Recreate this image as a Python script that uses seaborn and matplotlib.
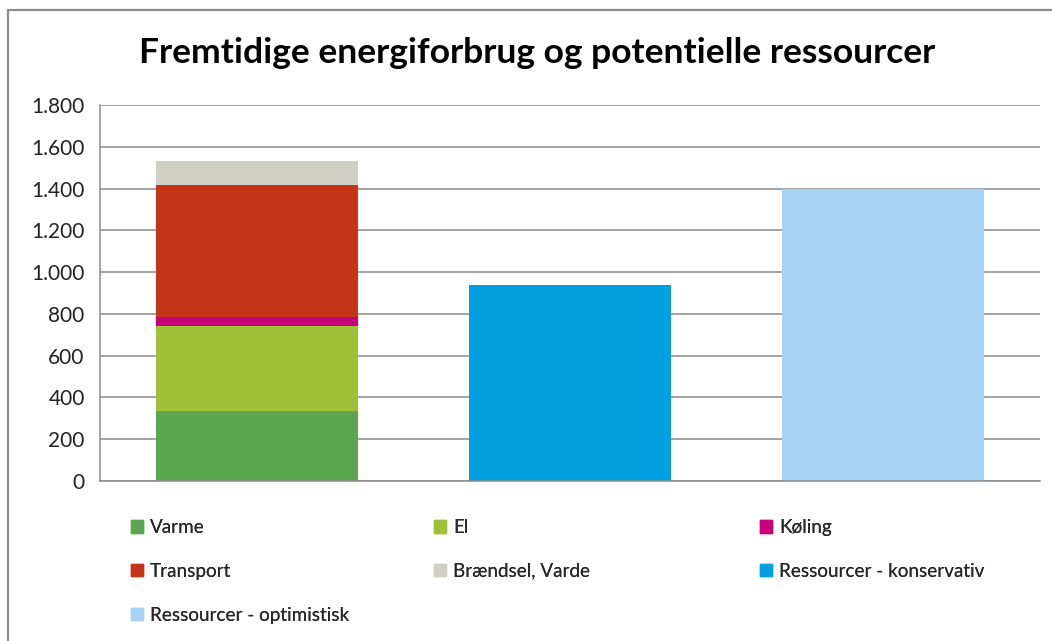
import matplotlib
matplotlib.use("Agg")
import matplotlib.pyplot as plt
import matplotlib.patches as mpatches
import seaborn as sns
import pandas as pd

sns.set_style("white")
plt.rcParams["font.family"] = ["Lato", "DejaVu Sans"]

# Data
categories = ["Forbrug", "Konservativ", "Optimistisk"]
series = ["Varme", "El", "Køling", "Transport", "Brændsel, Varde",
          "Ressourcer - konservativ", "Ressourcer - optimistisk"]
series_cat = ["Forbrug", "Forbrug", "Forbrug", "Forbrug", "Forbrug",
              "Konservativ", "Optimistisk"]
values = [335, 407, 43, 630, 117, 940, 1400]
colors = ["#5DA651", "#A2C037", "#C8007A", "#C43518", "#D0CFC6",
          "#009FDF", "#A6D3F3"]
ytick_values = [0, 200, 400, 600, 800, 1000, 1200, 1400, 1600, 1800]
ytick_labels = ["0", "200", "400", "600", "800", "1.000", "1.200",
                "1.400", "1.600", "1.800"]

fig = plt.figure(figsize=(10.52, 6.41), dpi=100)
ax = fig.add_axes([100 / 1052, 1 - 481 / 641, 940 / 1052, 376 / 641])

# stacked bars, one layer per series
bottoms = {c: 0 for c in categories}
handles = []
for name, cat, val, col in zip(series, series_cat, values, colors):
    df = pd.DataFrame({"kategori": [cat], "vaerdi": [val]})
    sns.barplot(data=df, x="kategori", y="vaerdi", order=categories,
                color=col, width=0.645, bottom=bottoms[cat],
                saturation=1, linewidth=0, ax=ax)
    bottoms[cat] += val
    handles.append(mpatches.Patch(color=col, label=name))

ax.set_xlim(-0.5, 2.5)
ax.set_ylim(0, 1800)
ax.set_yticks(ytick_values)
ax.set_yticklabels(ytick_labels, fontsize=15, color="#222222")
ax.set_xticks([])
ax.set_xlabel("")
ax.set_ylabel("")
ax.yaxis.grid(True, color="#8a8a8a", linewidth=1.1)
ax.set_axisbelow(True)
ax.tick_params(axis="y", length=0, pad=11)
for s in ["top", "right"]:
    ax.spines[s].set_visible(False)
for s in ["left", "bottom"]:
    ax.spines[s].set_color("#8a8a8a")
    ax.spines[s].set_linewidth(1.1)

fig.text(537 / 1052, 1 - 53 / 641,
         "Fremtidige energiforbrug og potentielle ressourcer",
         ha="center", va="center", fontsize=25.5, fontweight="bold", color="black")

# legend in three columns, row-wise like the original
columns = [[0, 3, 6], [1, 4], [2, 5]]
col_x = [131, 434, 760]
for xs, idx in zip(col_x, columns):
    leg = fig.legend(handles=[handles[i] for i in idx], loc="upper left",
                     bbox_to_anchor=(xs / 1052, 1 - 519 / 641),
                     frameon=False, fontsize=13.6, handlelength=0.65,
                     handleheight=0.65, handletextpad=0.35, labelspacing=1.42,
                     borderpad=0, borderaxespad=0)
    fig.add_artist(leg)

# outer chart border
fig.add_artist(mpatches.Rectangle((8 / 1052, -0.1), 1.2, 1 - 10 / 641 + 0.1,
                                  transform=fig.transFigure, fill=False,
                                  edgecolor="#8c8c8c", linewidth=1.6))

fig.savefig("out.png", dpi=100)
